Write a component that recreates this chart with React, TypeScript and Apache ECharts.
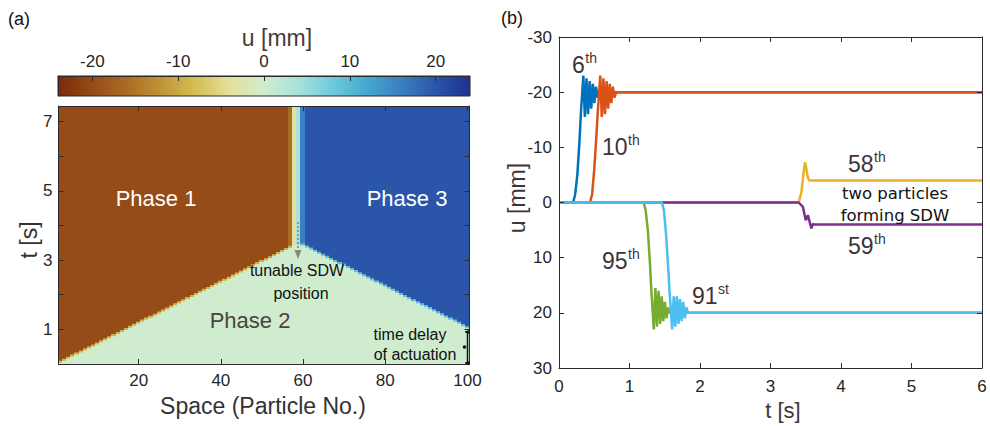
import React, { useEffect, useRef } from 'react';
import * as echarts from 'echarts';

// ---------- Panel (a): space-time map ----------
const particleNo = Array.from({ length: 100 }, (_, i) => i + 1);
const arrivalTime = [
  0.05, 0.11, 0.17, 0.23, 0.29, 0.35, 0.41, 0.47, 0.52, 0.58,
  0.64, 0.70, 0.76, 0.82, 0.88, 0.94, 1.00, 1.06, 1.12, 1.18,
  1.24, 1.30, 1.35, 1.41, 1.47, 1.53, 1.59, 1.65, 1.71, 1.77,
  1.83, 1.89, 1.95, 2.01, 2.07, 2.13, 2.18, 2.24, 2.30, 2.36,
  2.42, 2.48, 2.54, 2.60, 2.66, 2.72, 2.78, 2.84, 2.90, 2.96,
  3.01, 3.07, 3.13, 3.19, 3.25, 3.31, 3.37, 3.43, 3.45, 3.44,
  3.38, 3.32, 3.26, 3.20, 3.14, 3.08, 3.02, 2.96, 2.90, 2.85,
  2.79, 2.73, 2.67, 2.61, 2.55, 2.49, 2.43, 2.37, 2.31, 2.25,
  2.19, 2.13, 2.07, 2.01, 1.95, 1.89, 1.83, 1.77, 1.71, 1.66,
  1.60, 1.54, 1.48, 1.42, 1.36, 1.30, 1.24, 1.18, 1.11, 1.05,
];
// final displacement u [mm] of each particle
const finalU = [
  -20, -20, -20, -20, -20, -20, -20, -20, -20, -20,
  -20, -20, -20, -20, -20, -20, -20, -20, -20, -20,
  -20, -20, -20, -20, -20, -20, -20, -20, -20, -20,
  -20, -20, -20, -20, -20, -20, -20, -20, -20, -20,
  -20, -20, -20, -20, -20, -20, -20, -20, -20, -20,
  -20, -20, -20, -20, -20, -20, -16, -4, 4, 16,
  20, 20, 20, 20, 20, 20, 20, 20, 20, 20,
  20, 20, 20, 20, 20, 20, 20, 20, 20, 20,
  20, 20, 20, 20, 20, 20, 20, 20, 20, 20,
  20, 20, 20, 20, 20, 20, 20, 20, 20, 20,
];
const restU = 0;
const frontBandU = 9; // transient value seen along the switching front
const frontBandDuration = 0.06;
const mapTimeMax = 7.45;

const colorScaleValues = [-24, -20, -16, -12, -8, -4, 0, 4, 8, 12, 16, 20, 24];
const colorScaleColors = [
  '#7a2a0a', '#954c16', '#aa6c24', '#bf9436', '#d4be52', '#e4e09c', '#cfecce',
  '#a8e2dc', '#6ccbdb', '#45a8cf', '#3a7fbf', '#2b55a8', '#1e318c',
];
const colorbarTicks = [-20, -10, 0, 10, 20];
const spaceTicks = [20, 40, 60, 80, 100];
const mapTimeTicks = [1, 2, 3, 4, 5, 6, 7];
const mapTimeLabels = [1, 3, 5, 7];

// ---------- Panel (b): particle displacement vs time ----------
const t6 = [0, 0.2, 0.23, 0.26, 0.29, 0.31, 0.33, 0.345, 0.367, 0.39, 0.412, 0.435, 0.457, 0.48, 0.502, 0.525, 0.547, 0.57, 6];
const u6 = [0, 0, -1.5, -5, -11, -16, -20, -23, -15.5, -22.5, -16, -22, -17, -21.5, -18, -21, -19, -20, -20];
const t10 = [0, 0.44, 0.47, 0.5, 0.53, 0.55, 0.57, 0.585, 0.607, 0.63, 0.652, 0.675, 0.697, 0.72, 0.742, 0.765, 0.787, 0.81, 6];
const u10 = [0, 0, -1.5, -6, -12, -16.5, -20, -23, -15.5, -22.5, -16, -22, -17, -21.5, -18, -21, -19, -20, -20];
const t58 = [0, 3.4, 3.44, 3.47, 3.49, 3.51, 3.53, 3.55, 6];
const u58 = [0, 0, -2, -5.5, -7.3, -6, -4.5, -4, -4];
const t59 = [0, 3.4, 3.46, 3.5, 3.53, 3.58, 3.6, 3.62, 6];
const u59 = [0, 0, 0.8, 3.2, 2.3, 4.7, 3.9, 4, 4];
const t95 = [0, 1.2, 1.23, 1.26, 1.29, 1.31, 1.33, 1.345, 1.367, 1.39, 1.412, 1.435, 1.457, 1.48, 1.502, 1.525, 1.547, 1.57, 6];
const u95 = [0, 0, 1.5, 5, 11, 16, 20, 23, 15.5, 22.5, 16, 22, 17, 21.5, 18, 21, 19, 20, 20];
const t91 = [0, 1.46, 1.49, 1.52, 1.55, 1.57, 1.59, 1.605, 1.627, 1.65, 1.672, 1.695, 1.717, 1.74, 1.762, 1.785, 1.807, 1.83, 6];
const u91 = [0, 0, 1.5, 6, 12, 16.5, 20, 23, 17, 22.5, 17, 22, 17.5, 21.5, 18, 21, 19, 20, 20];

const lineSeriesDefs = [
  { name: '6th', t: t6, u: u6, color: '#0072BD' },
  { name: '10th', t: t10, u: u10, color: '#D95319' },
  { name: '58th', t: t58, u: u58, color: '#EDB120' },
  { name: '59th', t: t59, u: u59, color: '#7E2F8E' },
  { name: '95th', t: t95, u: u95, color: '#77AC30' },
  { name: '91st', t: t91, u: u91, color: '#4DBEEE' },
];

function colorOf(u: number): string {
  const v = Math.max(colorScaleValues[0], Math.min(colorScaleValues[colorScaleValues.length - 1], u));
  for (let i = 0; i < colorScaleValues.length - 1; i++) {
    if (v <= colorScaleValues[i + 1]) {
      const f = (v - colorScaleValues[i]) / (colorScaleValues[i + 1] - colorScaleValues[i]);
      return echarts.color.lerp(f, [colorScaleColors[i], colorScaleColors[i + 1]]) as string;
    }
  }
  return colorScaleColors[colorScaleColors.length - 1];
}

const FONT = 'Liberation Sans, Arial, sans-serif';
const TXT = '#262626';
const ANN = '#3f3438';

export default function App() {
  const ref = useRef<HTMLDivElement>(null);
  useEffect(() => {
    if (!ref.current) return;
    const chart = echarts.init(ref.current, undefined, { renderer: 'svg' });

    const heatCells: number[][] = [];
    particleNo.forEach((p, i) => {
      const a = arrivalTime[i];
      const f = finalU[i];
      heatCells.push([p, 0, a, restU]);
      if (Math.abs(f) >= 16) {
        heatCells.push([p, a, a + frontBandDuration, Math.sign(f) * frontBandU]);
        heatCells.push([p, a + frontBandDuration, mapTimeMax + 1, f]);
      } else {
        heatCells.push([p, a, mapTimeMax + 1, f]);
      }
    });

    const axLine = { show: true, onZero: false, lineStyle: { color: '#2b2b2b', width: 1 } };
    const tickIn = (vals?: number[]) => ({
      show: true, inside: true, length: 5, lineStyle: { color: '#2b2b2b' },
      ...(vals ? { customValues: vals } : {}),
    });
    const lbl = (extra: any) => ({ color: TXT, fontSize: 17, fontFamily: FONT, ...extra });

    const text = (x: number, y: number, s: string, size: number, fill = ANN, extra: any = {}, rotation = 0) => ({
      type: 'text', x, y, z: 100, silent: true, rotation,
      style: { text: s, fill, fontSize: size, fontFamily: FONT, align: 'center', verticalAlign: 'middle', ...extra },
    });
    const ordinal = (x: number, y: number, base: string, sup: string) => [
      text(x, y, base, 23, ANN, { align: 'left' }),
      text(x + base.length * 23 * 0.556 + 0.5, y - 7, sup, 14, ANN, { align: 'left' }),
    ];

    const cbStops = colorScaleValues.map((v, i) => ({
      offset: (v - colorScaleValues[0]) / (colorScaleValues[colorScaleValues.length - 1] - colorScaleValues[0]),
      color: colorScaleColors[i],
    }));

    const option: any = {
      animation: false,
      backgroundColor: '#ffffff',
      grid: [
        { left: 58.5, top: 106, width: 411, height: 258 },
        { left: 58, top: 76, width: 412, height: 20 },
        { left: 559, top: 37, width: 423, height: 331 },
      ],
      xAxis: [
        {
          gridIndex: 0, type: 'value', position: 'bottom', min: 0.5, max: 100.5, z: 10,
          axisLine: axLine, axisTick: tickIn(spaceTicks), splitLine: { show: false },
          axisLabel: lbl({ margin: 8, customValues: spaceTicks }),
        },
        {
          gridIndex: 0, type: 'value', position: 'top', min: 0.5, max: 100.5, z: 10,
          axisLine: axLine, axisTick: tickIn(spaceTicks), splitLine: { show: false },
          axisLabel: { show: false },
        },
        {
          gridIndex: 1, type: 'value', position: 'top', min: -24, max: 24, z: 10,
          axisLine: axLine, axisTick: tickIn(colorbarTicks), splitLine: { show: false },
          axisLabel: lbl({ margin: 6, customValues: colorbarTicks }),
        },
        {
          gridIndex: 2, type: 'value', position: 'bottom', min: 0, max: 6, interval: 1, z: 10,
          axisLine: axLine, axisTick: tickIn(), splitLine: { show: false },
          axisLabel: lbl({ margin: 10 }),
        },
        {
          gridIndex: 2, type: 'value', position: 'top', min: 0, max: 6, interval: 1, z: 10,
          axisLine: axLine, axisTick: tickIn(), splitLine: { show: false },
          axisLabel: { show: false },
        },
      ],
      yAxis: [
        {
          gridIndex: 0, type: 'value', position: 'left', min: 0, max: mapTimeMax, z: 10,
          axisLine: axLine, axisTick: tickIn(mapTimeTicks), splitLine: { show: false },
          axisLabel: lbl({ margin: 6, customValues: mapTimeLabels }),
        },
        {
          gridIndex: 0, type: 'value', position: 'right', min: 0, max: mapTimeMax, z: 10,
          axisLine: axLine, axisTick: tickIn(mapTimeTicks), splitLine: { show: false },
          axisLabel: { show: false },
        },
        {
          gridIndex: 1, type: 'value', position: 'left', min: 0, max: 1, z: 10,
          axisLine: axLine, axisTick: { show: false }, splitLine: { show: false }, axisLabel: { show: false },
        },
        {
          gridIndex: 2, type: 'value', position: 'left', min: -30, max: 30, interval: 10, inverse: true, z: 10,
          axisLine: axLine, axisTick: tickIn(), splitLine: { show: false },
          axisLabel: lbl({ margin: 7 }),
        },
        {
          gridIndex: 2, type: 'value', position: 'right', min: -30, max: 30, interval: 10, inverse: true, z: 10,
          axisLine: axLine, axisTick: tickIn(), splitLine: { show: false },
          axisLabel: { show: false },
        },
      ],
      series: [
        {
          type: 'custom', xAxisIndex: 0, yAxisIndex: 0, silent: true,
          encode: { x: 0, y: [1, 2] },
          data: heatCells,
          renderItem: (params: any, api: any) => {
            const cs = params.coordSys;
            const p = api.value(0), t0 = api.value(1), t1 = api.value(2), u = api.value(3);
            const tl = api.coord([p - 0.5, t1]);
            const br = api.coord([p + 0.5, t0]);
            const x0 = Math.max(cs.x, Math.floor(tl[0]));
            const x1 = Math.min(cs.x + cs.width, Math.ceil(br[0]) + 1);
            const y0 = Math.max(cs.y, tl[1]);
            const y1 = Math.min(cs.y + cs.height, br[1] + 0.6);
            if (x1 <= x0 || y1 <= y0) return null;
            const c = colorOf(u);
            return {
              type: 'rect',
              shape: { x: x0, y: y0, width: x1 - x0, height: y1 - y0 },
              style: { fill: c },
            };
          },
        },
        {
          type: 'custom', xAxisIndex: 2, yAxisIndex: 2, silent: true,
          encode: { x: 0, y: 1 },
          data: [[colorScaleValues[0], 0, colorScaleValues[colorScaleValues.length - 1], 1]],
          renderItem: (_params: any, api: any) => {
            const a = api.coord([api.value(0), api.value(3)]);
            const b = api.coord([api.value(2), api.value(1)]);
            return {
              type: 'rect',
              shape: { x: a[0], y: a[1], width: b[0] - a[0], height: b[1] - a[1] },
              style: { fill: new echarts.graphic.LinearGradient(0, 0, 1, 0, cbStops), stroke: '#2b2b2b', lineWidth: 1 },
            };
          },
        },
        ...lineSeriesDefs.map((d) => ({
          type: 'line', name: d.name, xAxisIndex: 3, yAxisIndex: 3,
          showSymbol: false, symbol: 'none', silent: true,
          lineStyle: { color: d.color, width: 2.5 },
          data: d.t.map((t, i) => [t, d.u[i]]),
        })),
      ],
      graphic: {
        elements: [
          text(19, 19, '(a)', 18, '#111'),
          text(512, 18, '(b)', 18, '#111'),
          text(277, 38, 'u [mm]', 23, '#4a3a3a'),
          text(29, 240, 't [s]', 23, '#333', {}, Math.PI / 2),
          text(263, 406, 'Space (Particle No.)', 23, '#333'),
          text(517, 198, 'u [mm]', 23, ANN, {}, Math.PI / 2),
          text(783, 410, 't [s]', 22, ANN),
          text(156, 198, 'Phase 1', 22, '#ffffff'),
          text(407, 198, 'Phase 3', 22, '#ffffff'),
          text(250, 320, 'Phase 2', 22, '#4d4040'),
          text(297, 270, 'tunable SDW', 16, '#111'),
          text(301, 293, 'position', 16, '#111'),
          text(410, 334, 'time delay', 16, '#111'),
          text(415, 354, 'of actuation', 16, '#111'),
          text(895, 193, 'two particles', 16.5, '#111', { fontFamily: 'DejaVu Sans' }),
          text(895, 215, 'forming SDW', 16.5, '#111', { fontFamily: 'DejaVu Sans' }),
          ...ordinal(572, 65, '6', 'th'),
          ...ordinal(602, 147, '10', 'th'),
          ...ordinal(848, 164, '58', 'th'),
          ...ordinal(848, 246, '59', 'th'),
          ...ordinal(602, 261, '95', 'th'),
          ...ordinal(692, 296, '91', 'st'),
          {
            type: 'line', z: 100, silent: true,
            shape: { x1: 298, y1: 222, x2: 298, y2: 252 },
            style: { stroke: '#8a8870', lineWidth: 1.6, lineDash: [2, 2] },
          },
          {
            type: 'polygon', z: 100, silent: true,
            shape: { points: [[294.5, 250], [301.5, 250], [298, 259]] },
            style: { fill: '#8a8870' },
          },
          {
            type: 'polyline', z: 100, silent: true,
            shape: { points: [[465, 332], [467.5, 332], [467.5, 363], [465, 363]] },
            style: { stroke: '#111', lineWidth: 1.5, fill: null },
          },
          { type: 'circle', z: 100, silent: true, shape: { cx: 468, cy: 332, r: 1.8 }, style: { fill: '#111' } },
          { type: 'circle', z: 100, silent: true, shape: { cx: 464.5, cy: 347, r: 1.8 }, style: { fill: '#111' } },
          { type: 'circle', z: 100, silent: true, shape: { cx: 468, cy: 363, r: 1.8 }, style: { fill: '#111' } },
        ],
      },
    };

    chart.setOption(option);
    return () => chart.dispose();
  }, []);

  return <div ref={ref} style={{ position: 'fixed', left: 0, top: 0, width: 990, height: 426, background: '#fff' }} />;
}
